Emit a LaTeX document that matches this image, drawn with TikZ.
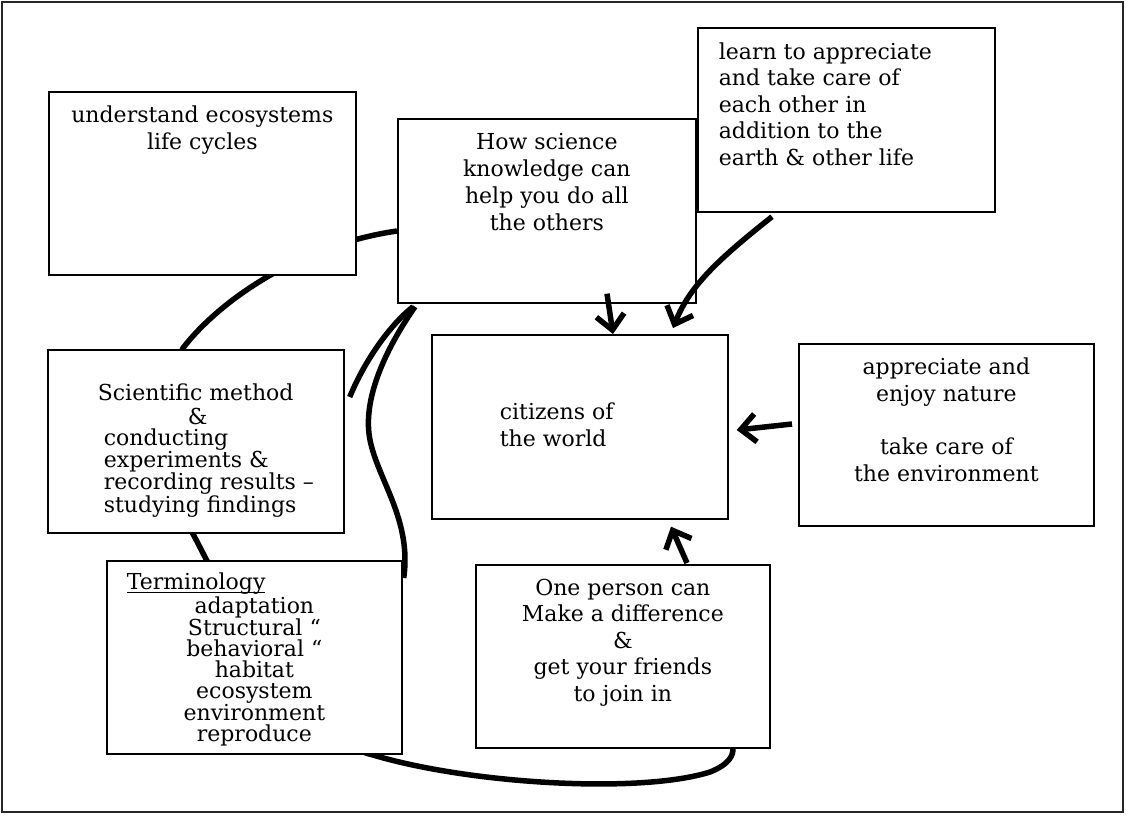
\documentclass[tikz,border=0pt]{standalone}
\usepackage{fontspec}
\setmainfont{DejaVu Serif}
\usetikzlibrary{arrows.meta,backgrounds,calc}
\newlength\ulwidth
\newcommand{\wordline}[1]{\settowidth{\ulwidth}{#1}\rlap{\rule[-3.5pt]{\ulwidth}{1.1pt}}#1}

\begin{document}
\begin{tikzpicture}[x=1pt,y=-1pt,
    box node/.style={draw,line width=1.7pt,fill=white,inner sep=0pt,anchor=north west,font=\fontsize{22}{27}\selectfont},
    link/.style={line width=5.5pt},
    arrow link/.style={line width=5.5pt,-{Straight Barb[length=15pt,width=28pt]}}]
    \useasboundingbox (0,0) rectangle (1126,815);
    \draw[line width=2pt,black!85] (2,2) rectangle (1123,812);

    \node[box node] (1) at (48,91) {\parbox[c][183pt][t]{307pt}{\vspace*{12pt}\centering\strut understand ecosystems\\ life cycles}};
    \node[box node] (2) at (397,118) {\parbox[c][184pt][t]{298pt}{\vspace*{12pt}\centering\strut How science\\ knowledge can\\ help you do all\\ the others}};
    \node[box node] (3) at (697,27) {\parbox[c][184pt][t]{297pt}{\fontsize{22}{26.5}\selectfont\vspace*{13pt}\raggedright\leftskip=21pt\strut learn to appreciate\\ and take care of\\ each other in\\ addition to the\\ earth \& other life}};
    \node[box node] (4) at (47,349) {\parbox[c][183pt][t]{296pt}{\fontsize{22}{21}\selectfont\vspace*{34pt}\raggedright\strut\hspace*{50pt}Scientific method\\ \hspace*{140pt}\&\\ \hspace*{56pt}conducting\\ \hspace*{56pt}experiments \&\\ \hspace*{56pt}recording results –\\ \hspace*{56pt}studying findings}};
    \node[box node] (5) at (431,334) {\parbox[c][184pt][t]{296pt}{\vspace*{66pt}\raggedright\leftskip=68pt\strut citizens of\\ the world}};
    \node[box node] (6) at (798,343) {\parbox[c][182pt][t]{295pt}{\fontsize{22}{27.5}\selectfont\vspace*{11pt}\centering\strut appreciate and\\ enjoy nature\\[25pt] take care of\\ the environment}};
    \node[box node] (7) at (106,560) {\parbox[c][193pt][t]{295pt}{\fontsize{22}{21}\selectfont\vspace*{12pt}\centering\strut\makebox[\linewidth][l]{\hspace*{20pt}\wordline{Terminology}}\\ adaptation\\ Structural “\\ behavioral “\\ habitat\\ ecosystem\\ environment\\ reproduce}};
    \node[box node] (8) at (475,564) {\parbox[c][183pt][t]{294pt}{\fontsize{22}{26.5}\selectfont\vspace*{12pt}\centering\strut One person can\\ Make a difference\\ \&\\ get your friends\\ to join in}};

    % curves behind the boxes
    \begin{pgfonlayer}{background}
        \draw[link] (2.west |- 0,231) .. controls (300,245) and (220,300) .. (183,348)
            .. controls (160,400) and (165,480) .. (192,532)
            .. controls (215,575) and (290,735) .. (373,755)
            .. controls (470,784) and (640,794) .. (710,772)
            .. controls (730,764) and (733,755) .. (8.south -| 733,0);
        \draw[link] ($(2.south west)+(16,3)$) .. controls (390,325) and (365,360) .. ($(4.north east)+(5,48)$);
        \draw[link] ($(2.south west)+(18,3)$) .. controls (385,350) and (362,400) .. (370,440)
            .. controls (378,480) and (412,520) .. ($(7.north east)+(1,18)$);
    \end{pgfonlayer}

    \draw[arrow link] ($(2.south west)+(210,-10)$) -- ($(5.north west)+(182,0)$);
    \draw[arrow link] ($(3.south west)+(75,4)$) .. controls (720,258) and (690,285) .. ($(5.north west)+(242,-6)$);
    \draw[arrow link] ($(6.north west)+(-6,81)$) -- ($(5.north east)+(8,96)$);
    \draw[arrow link] ($(8.north west)+(212,-1)$) -- ($(5.south west)+(240,7)$);
\end{tikzpicture}
\end{document}
